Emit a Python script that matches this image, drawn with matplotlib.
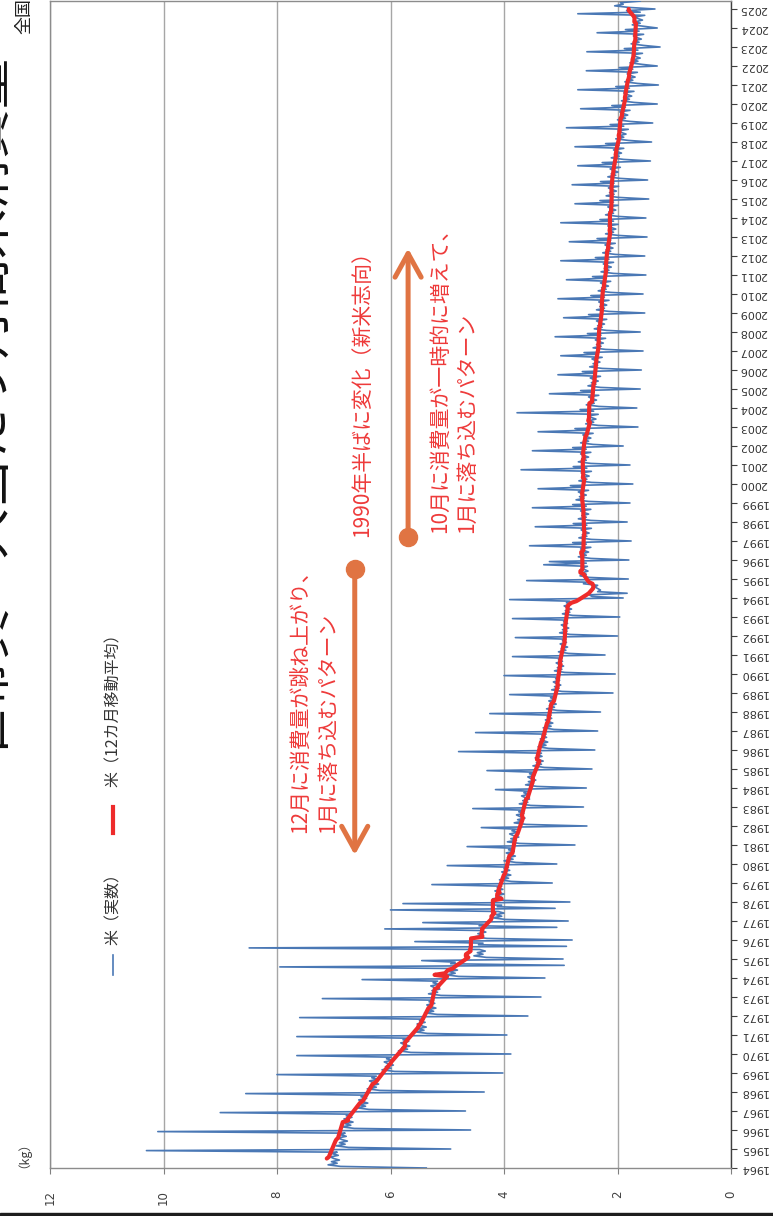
import numpy as np
import pandas as pd
import matplotlib
matplotlib.use("Agg")
import matplotlib.pyplot as plt
from matplotlib.lines import Line2D
from matplotlib.patches import Rectangle

plt.rcParams['font.family'] = ['DejaVu Sans', 'Noto Sans CJK JP']
JP = ['Noto Sans CJK JP', 'DejaVu Sans']

# Monthly rice consumption per household member (kg), rows = Jan..Dec
first_year = 1964
rice_1960s = [
    [5.37, 6.88, 7.10, 6.94, 7.04, 6.90, 7.00, 7.06, 6.92, 7.02, 6.94, 10.30],
    [4.94, 6.74, 6.96, 6.80, 6.90, 6.76, 6.86, 6.92, 6.78, 6.88, 6.80, 10.10],
    [4.59, 6.64, 6.86, 6.70, 6.80, 6.66, 6.76, 6.82, 6.68, 6.78, 6.70, 9.00],
    [4.68, 6.38, 6.60, 6.44, 6.54, 6.40, 6.50, 6.56, 6.42, 6.52, 6.44, 8.55],
    [4.35, 6.19, 6.41, 6.25, 6.35, 6.21, 6.31, 6.37, 6.23, 6.33, 6.25, 8.00],
    [4.02, 5.93, 6.15, 5.99, 6.09, 5.95, 6.05, 6.11, 5.97, 6.07, 5.99, 7.65],
]
rice_1970s = [
    [3.88, 5.64, 5.86, 5.70, 5.80, 5.66, 5.76, 5.82, 5.68, 5.78, 5.70, 7.65],
    [3.95, 5.35, 5.57, 5.41, 5.51, 5.37, 5.47, 5.53, 5.39, 5.49, 5.41, 7.60],
    [3.58, 5.18, 5.40, 5.24, 5.34, 5.20, 5.30, 5.36, 5.22, 5.32, 5.24, 7.20],
    [3.35, 5.11, 5.33, 5.17, 5.27, 5.13, 5.23, 5.29, 5.15, 5.25, 5.17, 6.50],
    [3.28, 4.80, 5.02, 4.86, 4.96, 4.82, 4.92, 7.95, 2.94, 4.94, 4.86, 5.45],
    [2.96, 4.31, 4.53, 4.37, 4.47, 4.33, 4.43, 8.49, 2.90, 4.45, 4.37, 5.57],
    [2.80, 4.30, 4.52, 4.36, 4.46, 4.32, 4.42, 6.10, 3.07, 4.44, 4.36, 5.43],
    [2.87, 3.98, 4.20, 4.04, 4.14, 4.00, 4.10, 6.00, 3.10, 4.12, 4.04, 5.78],
    [2.84, 3.99, 4.20, 4.04, 4.14, 4.00, 4.10, 4.16, 4.02, 4.12, 4.04, 5.27],
    [3.15, 3.87, 4.08, 3.92, 4.02, 3.88, 3.98, 4.04, 3.90, 4.00, 3.92, 5.00],
]
rice_1980s = [
    [3.07, 3.79, 4.00, 3.84, 3.94, 3.80, 3.90, 3.96, 3.82, 3.92, 3.84, 4.65],
    [2.75, 3.73, 3.94, 3.78, 3.88, 3.74, 3.84, 3.90, 3.76, 3.86, 3.78, 4.40],
    [2.54, 3.61, 3.82, 3.67, 3.76, 3.63, 3.72, 3.78, 3.65, 3.74, 3.67, 4.55],
    [2.60, 3.53, 3.73, 3.58, 3.67, 3.55, 3.63, 3.69, 3.57, 3.65, 3.58, 4.15],
    [2.55, 3.42, 3.62, 3.48, 3.57, 3.44, 3.53, 3.58, 3.46, 3.55, 3.48, 4.30],
    [2.45, 3.29, 3.49, 3.34, 3.43, 3.31, 3.39, 3.45, 3.33, 3.41, 3.34, 4.80],
    [2.40, 3.21, 3.40, 3.26, 3.35, 3.23, 3.31, 3.36, 3.25, 3.33, 3.26, 4.50],
    [2.35, 3.12, 3.31, 3.17, 3.26, 3.14, 3.22, 3.27, 3.16, 3.24, 3.17, 4.25],
    [2.30, 3.06, 3.25, 3.11, 3.20, 3.08, 3.16, 3.21, 3.10, 3.18, 3.11, 3.90],
    [2.08, 2.98, 3.16, 3.03, 3.11, 3.00, 3.08, 3.13, 3.02, 3.09, 3.03, 4.00],
]
rice_1990s = [
    [2.04, 2.93, 3.11, 2.98, 3.06, 2.95, 3.03, 3.08, 2.97, 3.04, 2.98, 3.85],
    [2.22, 2.86, 3.04, 2.91, 2.99, 2.88, 2.96, 3.01, 2.90, 2.97, 2.91, 3.80],
    [2.00, 2.84, 3.02, 2.89, 2.97, 2.86, 2.94, 2.99, 2.88, 2.95, 2.89, 3.85],
    [1.96, 2.79, 2.97, 2.84, 2.92, 2.81, 2.89, 2.94, 2.83, 2.90, 2.84, 3.90],
    [1.90, 2.45, 2.50, 1.83, 2.35, 2.30, 2.35, 2.40, 2.35, 2.60, 2.55, 3.60],
    [1.81, 2.50, 2.66, 2.55, 2.62, 2.52, 2.58, 2.62, 2.53, 3.30, 2.55, 3.20],
    [1.80, 2.47, 2.69, 2.55, 2.63, 2.51, 2.59, 2.65, 2.47, 3.55, 2.55, 2.79],
    [1.76, 2.46, 2.68, 2.54, 2.62, 2.50, 2.58, 2.64, 2.46, 3.45, 2.54, 2.78],
    [1.83, 2.47, 2.69, 2.55, 2.63, 2.51, 2.59, 2.65, 2.47, 3.50, 2.55, 2.79],
    [1.78, 2.51, 2.73, 2.59, 2.67, 2.55, 2.63, 2.69, 2.51, 3.40, 2.59, 2.83],
]
rice_2000s = [
    [1.73, 2.46, 2.68, 2.54, 2.62, 2.50, 2.58, 2.64, 2.46, 3.70, 2.54, 2.78],
    [1.78, 2.47, 2.69, 2.55, 2.63, 2.51, 2.59, 2.65, 2.47, 3.50, 2.55, 2.79],
    [1.90, 2.43, 2.65, 2.51, 2.59, 2.47, 2.55, 2.61, 2.43, 3.40, 2.51, 2.75],
    [1.64, 2.34, 2.56, 2.42, 2.50, 2.38, 2.46, 2.52, 2.34, 3.77, 2.42, 2.66],
    [1.66, 2.33, 2.55, 2.41, 2.49, 2.37, 2.45, 2.51, 2.33, 3.20, 2.41, 2.65],
    [1.60, 2.30, 2.52, 2.38, 2.46, 2.34, 2.42, 2.48, 2.30, 3.05, 2.38, 2.62],
    [1.58, 2.27, 2.49, 2.35, 2.43, 2.31, 2.39, 2.45, 2.27, 3.00, 2.35, 2.59],
    [1.55, 2.21, 2.43, 2.29, 2.37, 2.25, 2.33, 2.39, 2.21, 3.10, 2.29, 2.53],
    [1.60, 2.19, 2.41, 2.27, 2.35, 2.23, 2.31, 2.37, 2.19, 2.95, 2.27, 2.51],
    [1.52, 2.15, 2.37, 2.23, 2.31, 2.19, 2.27, 2.33, 2.15, 3.05, 2.23, 2.47],
]
rice_2010s = [
    [1.55, 2.12, 2.34, 2.20, 2.28, 2.16, 2.24, 2.30, 2.12, 2.90, 2.20, 2.44],
    [1.50, 2.07, 2.29, 2.15, 2.23, 2.11, 2.19, 2.25, 2.07, 3.00, 2.15, 2.39],
    [1.52, 2.04, 2.26, 2.12, 2.20, 2.08, 2.16, 2.22, 2.04, 2.85, 2.12, 2.36],
    [1.48, 1.99, 2.21, 2.07, 2.15, 2.03, 2.11, 2.17, 1.99, 3.00, 2.07, 2.31],
    [1.50, 1.99, 2.21, 2.07, 2.15, 2.03, 2.11, 2.17, 1.99, 2.75, 2.07, 2.31],
    [1.45, 1.98, 2.20, 2.06, 2.14, 2.02, 2.10, 2.16, 1.98, 2.80, 2.06, 2.30],
    [1.47, 1.95, 2.17, 2.03, 2.11, 1.99, 2.07, 2.13, 1.95, 2.70, 2.03, 2.27],
    [1.42, 1.89, 2.11, 1.97, 2.05, 1.93, 2.01, 2.07, 1.89, 2.75, 1.97, 2.21],
    [1.40, 1.81, 2.03, 1.89, 1.97, 1.85, 1.93, 1.99, 1.81, 2.90, 1.89, 2.13],
    [1.38, 1.78, 2.00, 1.86, 1.94, 1.82, 1.90, 1.96, 1.78, 2.65, 1.86, 2.10],
]
rice_2020s = [
    [1.30, 1.71, 1.93, 1.79, 1.87, 1.75, 1.83, 1.89, 1.71, 2.70, 1.79, 2.03],
    [1.28, 1.65, 1.87, 1.73, 1.81, 1.69, 1.77, 1.83, 1.65, 2.55, 1.73, 1.97],
    [1.30, 1.56, 1.78, 1.64, 1.72, 1.60, 1.68, 1.74, 1.56, 2.54, 1.64, 1.88],
    [1.25, 1.54, 1.76, 1.62, 1.70, 1.58, 1.66, 1.72, 1.54, 2.36, 1.62, 1.86],
    [1.30, 1.52, 1.74, 1.60, 1.68, 1.56, 1.64, 1.70, 1.52, 2.70, 1.60, 1.84],
    [1.34, 1.80, 2.05, 1.90, 1.95, 1.60],
]

kg_ticks = [0, 2, 4, 6, 8, 10, 12]
year_ticks = list(range(1964, 2026))

legend_actual = "米（実数）"
legend_average = "米（12カ月移動平均）"
note_december = ["12月に消費量が跳ね上がり、", "1月に落ち込むパターン"]
note_shift = "1990年半ばに変化（新米志向）"
note_october = ["10月に消費量が一時的に増えて、", "1月に落ち込むパターン"]
title_text = "世帯員一人当たり月間米消費量"
subtitle_text = "全国"

BLUE = "#4a78b5"
RED = "#ee2b2b"
ORANGE = "#e07443"
NOTE_RED = "#ee3a3a"

monthly = [v for block in (rice_1960s, rice_1970s, rice_1980s, rice_1990s,
                           rice_2000s, rice_2010s, rice_2020s)
           for row in block for v in row]
t = first_year + np.arange(len(monthly)) / 12.0
moving = pd.Series(monthly).rolling(12, center=True).mean()

W, H = 773, 1216
fig = plt.figure(figsize=(W / 100, H / 100), dpi=100)
fig.patch.set_facecolor("white")
ax = fig.add_axes([50 / W, (H - 1168) / H, 681 / W, 1167 / H])


def fx(px):
    return px / W


def fy(py):
    return 1 - py / H


# series (value on the horizontal, time running upward)
ax.plot(monthly, t, color=BLUE, lw=1.2, zorder=3)
ax.plot(moving, t, color=RED, lw=3.0, zorder=4, solid_capstyle="round")

ax.set_xlim(12, 0)
ax.set_ylim(first_year, first_year + 1167 / 19.0)

ax.set_xticks(kg_ticks)
ax.set_xticklabels([str(v) for v in kg_ticks], rotation=90)
ax.tick_params(axis="x", direction="out", length=4, width=0.8, color="#808080",
               pad=12, labelsize=8.5, labelcolor="#404040")
ax.grid(axis="x", color="#a6a6a6", lw=1.0, zorder=1)
ax.set_axisbelow(True)

ax.yaxis.tick_right()
ax.set_yticks(year_ticks)
ax.set_yticklabels([str(y) for y in year_ticks], rotation=180)
for lab in ax.get_yticklabels():
    lab.set_va("center")
ax.tick_params(axis="y", direction="out", length=4, width=0.8, color="#404040",
               pad=2, labelsize=8, labelcolor="#333333")

for side in ("left", "top", "bottom"):
    ax.spines[side].set_color("#8c8c8c")
    ax.spines[side].set_linewidth(1.0)
ax.spines["right"].set_color("#404040")
ax.spines["right"].set_linewidth(1.0)

# annotation arrows
ax.annotate("", xy=(6.63, 1980.47), xytext=(6.63, 1995.53),
            arrowprops=dict(arrowstyle="->,head_length=0.85,head_width=0.47",
                            lw=3.6, color=ORANGE, shrinkA=0, shrinkB=0,
                            mutation_scale=20), zorder=5)
ax.plot([6.63], [1995.53], "o", ms=13, color=ORANGE, zorder=5)
ax.annotate("", xy=(5.69, 2012.4), xytext=(5.69, 1997.2),
            arrowprops=dict(arrowstyle="->,head_length=0.85,head_width=0.47",
                            lw=3.6, color=ORANGE, shrinkA=0, shrinkB=0,
                            mutation_scale=20), zorder=5)
ax.plot([5.69], [1997.2], "o", ms=13, color=ORANGE, zorder=5)

# annotation texts
ax.text(7.577, 1981.63, note_december[0], rotation=90, ha="center", va="bottom",
        color=NOTE_RED, fontsize=15, family=JP, zorder=6)
ax.text(7.101, 1981.63, note_december[1], rotation=90, ha="center", va="bottom",
        color=NOTE_RED, fontsize=15, family=JP, zorder=6)
ax.text(6.502, 1997.21, note_shift, rotation=90, ha="center", va="bottom",
        color=NOTE_RED, fontsize=15, family=JP, zorder=6)
ax.text(5.128, 1997.42, note_october[0], rotation=90, ha="center", va="bottom",
        color=NOTE_RED, fontsize=15, family=JP, zorder=6)
ax.text(4.652, 1997.42, note_october[1], rotation=90, ha="center", va="bottom",
        color=NOTE_RED, fontsize=15, family=JP, zorder=6)

# legend
fig.add_artist(Line2D([fx(113), fx(113)], [fy(975), fy(955)], color=BLUE, lw=1.2,
                      transform=fig.transFigure))
fig.text(fx(113), fy(945), legend_actual, rotation=90, ha="center", va="bottom",
         fontsize=11.5, family=JP, color="#333333")
fig.add_artist(Line2D([fx(113), fx(113)], [fy(833), fy(807)], color=RED, lw=3.0,
                      transform=fig.transFigure))
fig.text(fx(113), fy(787), legend_average, rotation=90, ha="center", va="bottom",
         fontsize=11.5, family=JP, color="#333333")

# unit, title and area label
fig.text(fx(17), fy(1168), "（kg）", rotation=90, ha="center", va="bottom",
         fontsize=9, family=JP, color="#404040")
fig.text(fx(-12), fy(405), title_text, rotation=90, ha="center", va="center",
         fontsize=36, family=JP, color="#111111")
fig.text(fx(24), fy(34), subtitle_text, rotation=90, ha="center", va="bottom",
         fontsize=13, family=JP, color="#222222")

fig.add_artist(Rectangle((0, 0), 1, 3 / H, transform=fig.transFigure,
                         color="#1e1e1e", zorder=10))

fig.savefig("out.png", dpi=100)
